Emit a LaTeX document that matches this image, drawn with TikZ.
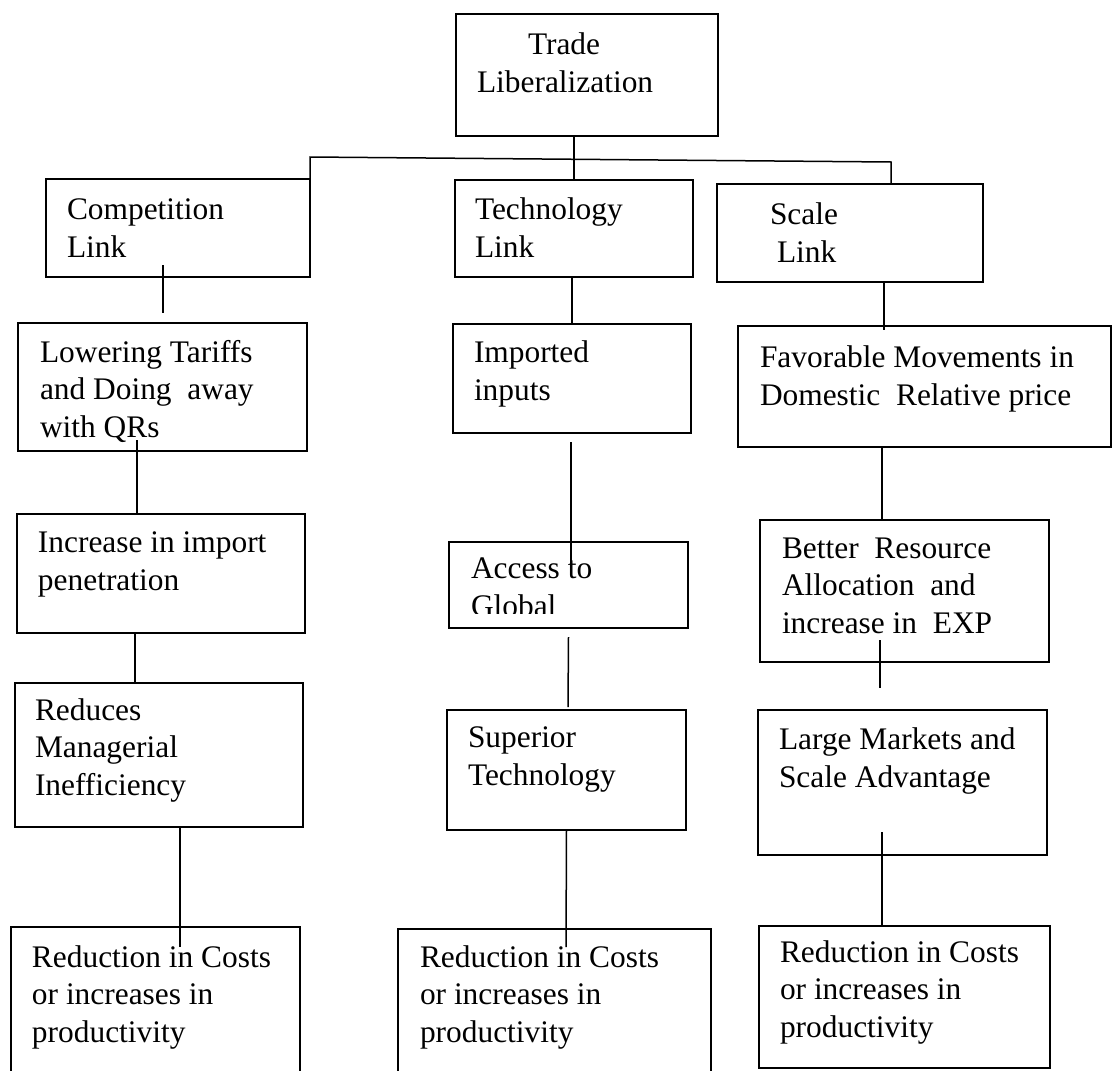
\documentclass[tikz,border=0pt]{standalone}
\usepackage{fontspec}
\setmainfont{Liberation Serif}
\usetikzlibrary{calc}
\tikzset{
  boxst/.style={draw=black, line width=0.95pt, rectangle, inner sep=0pt, outer sep=0pt},
  txt/.style={inner sep=0pt, outer sep=0pt, anchor=base west, align=left,
    font=\fontsize{15.7}{18.6}\selectfont},
  conn/.style={draw=black, line width=0.75pt}
}
\newcommand\bx[5]{\node[boxst, minimum width={(#4-#2)*0.5pt}, minimum height={(#5-#3)*0.5pt}] (#1) at ({(#2+#4)/2},{(#3+#5)/2}) {};}
\begin{document}
\begin{tikzpicture}[x=0.5pt,y=-0.5pt]
\useasboundingbox (0,0) rectangle (1114,1071);
\clip (0,0) rectangle (1114,1071);
% boxes
\bx{trade}{456}{14}{718}{136}
\bx{comp}{46}{179}{310}{277}
\bx{tech}{455}{180}{693}{277}
\bx{scale}{717}{184}{983}{282}
\bx{lower}{18}{323}{307}{451}
\bx{impin}{453}{324}{691}{433}
\bx{fav}{738}{326}{1111}{447}
\bx{incr}{17}{514}{305}{633}
\bx{access}{449}{542}{688}{628}
\bx{better}{760}{520}{1049}{662}
\bx{reduces}{15}{683}{303}{827}
\bx{superior}{447}{710}{686}{830}
\bx{large}{758}{710}{1047}{855}
\bx{redA}{11}{927}{300}{1085}
\bx{redB}{398}{929}{711}{1085}
\bx{redC}{759}{926}{1050}{1068}
% texts (anchor = baseline of the last line)
\node[txt] (ttrade) at (477,92) {\hspace*{25.5pt}Trade\\Liberalization};
\node[txt] (tcomp) at (67,257) {Competition\\Link};
\node[txt] (ttech) at (475,257) {Technology\\Link};
\node[txt] (tscale) at (770,262) {Scale\\\hspace*{3.5pt}Link};
\node[txt] (tlower) at (40,437) {Lowering Tariffs\\and Doing~ away\\with QRs};
\node[txt] (timpin) at (474,400) {Imported\\inputs};
\node[txt] (tfav) at (760,405) {Favorable Movements in\\Domestic~ Relative price};
\node[txt] (tincr) at (38,590) {Increase in import\\penetration};
\begin{scope}
\clip (449,542) rectangle (688,613);
\node[txt] (taccess) at (471,616) {Access to\\Global};
\end{scope}
\node[txt] (tbetter) at (782,633) {Better~ Resource\\Allocation~ and\\increase in~ EXP};
\node[txt] (treduces) at (35,795) {Reduces\\Managerial\\Inefficiency};
\node[txt] (tsuperior) at (468,785) {Superior\\Technology};
\node[txt] (tlarge) at (779,787) {Large Markets and\\Scale Advantage};
\node[txt] (tredA) at (32,1042) {Reduction in Costs\\or increases in\\productivity};
\node[txt] (tredB) at (420,1042) {Reduction in Costs\\or increases in\\productivity};
\node[txt] (tredC) at (780,1037) {Reduction in Costs\\or increases in\\productivity};
% connectors
\coordinate (hl) at (310,157);
\coordinate (hr) at (891,162);
\draw[conn] (trade.south -| tech.north) -- (tech.north);
\draw[conn] (comp.north east) -- (hl) -- (hr) -- (hr |- scale.north);
\draw[conn] ($(comp.south west)+(117,-12)$) -- ($(lower.north west)+(145,-10)$);
\draw[conn] ($(lower.south west)+(119,-11)$) -- ($(incr.north west)+(120,0)$);
\draw[conn] ($(incr.south west)+(118,0)$) -- ($(reduces.north west)+(120,0)$);
\draw[conn] ($(reduces.south west)+(165,0)$) -- ($(redA.north west)+(169,20)$);
\draw[conn] ($(tech.south)+(-2,0)$) -- ($(impin.north)+(0,0)$);
\draw[conn] ($(impin.south)+(-1,9)$) -- ($(access.north)+(2.5,26)$);
\draw[conn] ($(access.south)+(0,9)$) -- ($(superior.north)+(1.5,-3)$);
\draw[conn] (superior.south) -- ($(redB.north west)+(168,18)$);
\draw[conn] ($(scale.south)+(34,0)$) -- ($(fav.north west)+(146,4)$);
\draw[conn] ($(fav.south west)+(144,0)$) -- ($(better.north west)+(122,0)$);
\draw[conn] ($(better.south west)+(120,-22)$) -- ($(large.north west)+(122,-22)$);
\draw[conn] ($(large.south west)+(124,-23)$) -- ($(redC.north west)+(123,0)$);
\end{tikzpicture}
\end{document}
